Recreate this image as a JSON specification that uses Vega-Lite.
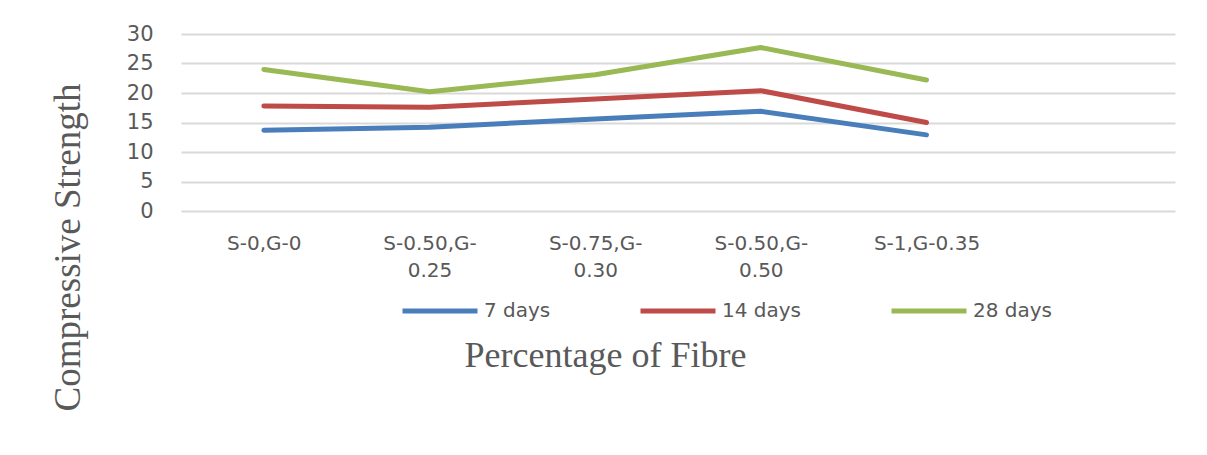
{
  "$schema": "https://vega.github.io/schema/vega-lite/v6.json",
  "width": 994,
  "height": 177,
  "autosize": {"type": "none"},
  "padding": {"left": 181, "top": 34, "right": 32, "bottom": 244},
  "background": "white",
  "config": {
    "view": {"stroke": null},
    "axis": {
      "labelColor": "#595959",
      "titleColor": "#595959",
      "labelFont": "DejaVu Sans",
      "titleFont": "Liberation Serif",
      "titleFontWeight": "normal"
    }
  },
  "data": {
    "values": [
      {"mix": "S-0,G-0", "age": "7 days", "strength": 13.7},
      {"mix": "S-0.50,G-0.25", "age": "7 days", "strength": 14.2},
      {"mix": "S-0.75,G-0.30", "age": "7 days", "strength": 15.6},
      {"mix": "S-0.50,G-0.50", "age": "7 days", "strength": 16.9},
      {"mix": "S-1,G-0.35", "age": "7 days", "strength": 12.9},
      {"mix": "S-0,G-0", "age": "14 days", "strength": 17.8},
      {"mix": "S-0.50,G-0.25", "age": "14 days", "strength": 17.6},
      {"mix": "S-0.75,G-0.30", "age": "14 days", "strength": 19.0},
      {"mix": "S-0.50,G-0.50", "age": "14 days", "strength": 20.4},
      {"mix": "S-1,G-0.35", "age": "14 days", "strength": 15.0},
      {"mix": "S-0,G-0", "age": "28 days", "strength": 24.0},
      {"mix": "S-0.50,G-0.25", "age": "28 days", "strength": 20.2},
      {"mix": "S-0.75,G-0.30", "age": "28 days", "strength": 23.1},
      {"mix": "S-0.50,G-0.50", "age": "28 days", "strength": 27.7},
      {"mix": "S-1,G-0.35", "age": "28 days", "strength": 22.2}
    ]
  },
  "mark": {"type": "line", "strokeWidth": 5, "strokeCap": "round", "strokeJoin": "round"},
  "encoding": {
    "x": {
      "field": "mix",
      "type": "nominal",
      "sort": null,
      "scale": {
        "type": "point",
        "padding": 0.5,
        "domain": ["S-0,G-0", "S-0.50,G-0.25", "S-0.75,G-0.30", "S-0.50,G-0.50", "S-1,G-0.35", " "]
      },
      "axis": {
        "title": "Percentage of Fibre",
        "titleFontSize": 36,
        "titleX": 424,
        "titleY": 155,
        "titleAnchor": null,
        "titleAlign": "center",
        "titleBaseline": "alphabetic",
        "labelAngle": 0,
        "labelFontSize": 20,
        "labelPadding": 22,
        "labelLineHeight": 27,
        "labelExpr": "length(datum.label) > 10 ? [substring(datum.label, 0, indexof(datum.label, 'G-') + 2), substring(datum.label, indexof(datum.label, 'G-') + 2)] : datum.label",
        "ticks": false,
        "domain": false,
        "grid": false
      }
    },
    "y": {
      "field": "strength",
      "type": "quantitative",
      "scale": {"domain": [0, 30]},
      "axis": {
        "title": "Compressive Strength",
        "titleFontSize": 37,
        "titleAngle": -90,
        "titleX": -102,
        "titleY": 213,
        "titleAnchor": null,
        "titleAlign": "center",
        "titleBaseline": "alphabetic",
        "values": [0, 5, 10, 15, 20, 25, 30],
        "labelFontSize": 21,
        "labelPadding": 28,
        "ticks": false,
        "domain": false,
        "grid": true,
        "gridColor": "#d9d9d9",
        "gridWidth": 2
      }
    },
    "color": {
      "field": "age",
      "type": "nominal",
      "sort": ["7 days", "14 days", "28 days"],
      "scale": {
        "domain": ["7 days", "14 days", "28 days"],
        "range": ["#4a7ebb", "#be4b48", "#98b954"]
      },
      "legend": {
        "title": null,
        "orient": "none",
        "direction": "horizontal",
        "legendX": 219,
        "legendY": 237,
        "symbolType": "stroke",
        "symbolSize": 5625,
        "symbolStrokeWidth": 5,
        "labelFont": "DejaVu Sans",
        "labelFontSize": 20,
        "labelColor": "#595959",
        "labelOffset": 4,
        "columnPadding": 79
      }
    }
  }
}
